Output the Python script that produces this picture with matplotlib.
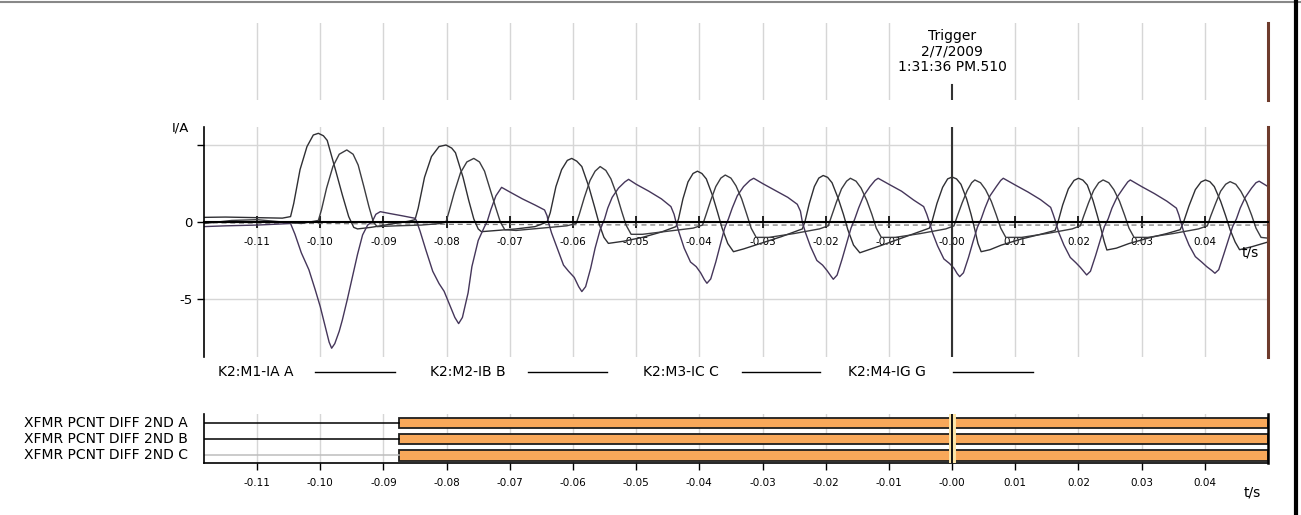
import matplotlib.pyplot as plt
import matplotlib.lines as mlines
import numpy as np

# time axis ticks (s)
tick_pos = [-0.11, -0.10, -0.09, -0.08, -0.07, -0.06, -0.05, -0.04, -0.03,
            -0.02, -0.01, 0.00, 0.01, 0.02, 0.03, 0.04]
tick_lab = ["-0.11", "-0.10", "-0.09", "-0.08", "-0.07", "-0.06", "-0.05", "-0.04",
            "-0.03", "-0.02", "-0.01", "-0.00", "0.01", "0.02", "0.03", "0.04"]
t_min, t_max = -0.1184, 0.050

# K2:M1-IA  (time [s], current [A])
ia_t = [-0.1184, -0.1150, -0.1100, -0.1060,
        -0.1047, -0.1042, -0.1032, -0.1021, -0.1011, -0.1003, -0.0995, -0.0989, -0.0976, -0.0965, -0.0955, -0.0947, -0.0941,
        -0.0920, -0.0890, -0.0860,
        -0.0850, -0.0845, -0.0835, -0.0824, -0.0812, -0.0801, -0.0792, -0.0786, -0.0774, -0.0765, -0.0757, -0.0750, -0.0745,
        -0.0720, -0.0690, -0.0660,
        -0.0641, -0.0636, -0.0627, -0.0618, -0.0609, -0.0602, -0.0594, -0.0586, -0.0575, -0.0566, -0.0558, -0.0551, -0.0544,
        -0.0520, -0.0490, -0.0460,
        -0.0437, -0.0433, -0.0426, -0.0418, -0.0410, -0.0403, -0.0396, -0.0389, -0.0379, -0.0371, -0.0364, -0.0355, -0.0346,
        -0.0330, -0.0300, -0.0270,
        -0.0237, -0.0233, -0.0226, -0.0218, -0.0211, -0.0204, -0.0197, -0.0190, -0.0180, -0.0172, -0.0165, -0.0156, -0.0146,
        -0.0114, -0.0080,
        -0.0036, -0.0032, -0.0024, -0.0015, -0.0007, 0.0000, 0.0007, 0.0014, 0.0023, 0.0030, 0.0036, 0.0041, 0.0046,
        0.0060, 0.0078, 0.0110, 0.0140,
        0.0163, 0.0167, 0.0175, 0.0184, 0.0193, 0.0200, 0.0207, 0.0214, 0.0223, 0.0230, 0.0236, 0.0241, 0.0245,
        0.0260, 0.0280, 0.0310, 0.0340,
        0.0361, 0.0366, 0.0375, 0.0385, 0.0394, 0.0401, 0.0408, 0.0415, 0.0425, 0.0433, 0.0440, 0.0448, 0.0455,
        0.0475, 0.0500]
ia_v = [0.30, 0.32, 0.28, 0.25,
        0.35, 1.20, 3.40, 4.90, 5.65, 5.76, 5.60, 5.30, 3.40, 1.75, 0.35, -0.35, -0.45,
        -0.35, -0.15, 0.05,
        0.15, 0.90, 2.90, 4.25, 4.90, 5.00, 4.80, 4.50, 2.90, 1.40, 0.20, -0.45, -0.63,
        -0.55, -0.45, -0.30,
        0.00, 0.60, 2.30, 3.40, 4.00, 4.13, 3.95, 3.60, 2.30, 1.00, -0.20, -1.00, -1.39,
        -1.25, -1.00, -0.65,
        -0.30, 0.20, 1.50, 2.60, 3.15, 3.30, 3.15, 2.80, 1.70, 0.60, -0.40, -1.40, -1.93,
        -1.75, -1.35, -0.95,
        -0.45, 0.00, 1.20, 2.30, 2.85, 3.02, 2.90, 2.55, 1.50, 0.50, -0.50, -1.50, -2.00,
        -1.55, -1.05,
        -0.40, 0.00, 1.20, 2.25, 2.80, 2.92, 2.80, 2.45, 1.50, 0.50, -0.50, -1.40, -1.93,
        -1.80, -1.50, -1.10, -0.80,
        -0.55, -0.10, 1.10, 2.15, 2.70, 2.84, 2.72, 2.40, 1.40, 0.40, -0.50, -1.30, -1.82,
        -1.70, -1.40, -1.05, -0.75,
        -0.50, -0.05, 1.05, 2.10, 2.60, 2.73, 2.62, 2.30, 1.35, 0.40, -0.50, -1.30, -1.80,
        -1.60, -1.30]

# K2:M2-IB
ib_t = [-0.1184, -0.1150, -0.1100, -0.1060,
        -0.1047, -0.1040, -0.1030, -0.1018, -0.1008, -0.1000, -0.0992, -0.0986, -0.0982, -0.0977, -0.0970, -0.0965, -0.0957, -0.0949, -0.0941, -0.0933, -0.0925, -0.0918,
        -0.0912, -0.0905, -0.0890, -0.0870, -0.0850,
        -0.0848, -0.0842, -0.0833, -0.0822, -0.0812, -0.0804, -0.0795, -0.0787, -0.0781, -0.0775, -0.0766, -0.0760, -0.0750, -0.0740, -0.0736,
        -0.0730, -0.0722, -0.0713, -0.0700, -0.0680, -0.0660, -0.0645, -0.0641,
        -0.0639, -0.0634, -0.0625, -0.0615, -0.0607, -0.0598, -0.0591, -0.0586, -0.0580, -0.0572, -0.0565, -0.0557, -0.0550,
        -0.0545, -0.0538, -0.0528, -0.0518, -0.0512, -0.0500, -0.0480, -0.0460, -0.0445, -0.0440,
        -0.0437, -0.0432, -0.0424, -0.0414, -0.0405, -0.0398, -0.0392, -0.0388, -0.0382, -0.0374, -0.0367, -0.0360, -0.0354,
        -0.0348, -0.0340, -0.0330, -0.0320, -0.0314, -0.0300, -0.0280, -0.0260, -0.0245, -0.0240,
        -0.0237, -0.0232, -0.0224, -0.0214, -0.0205, -0.0198, -0.0192, -0.0188, -0.0182, -0.0174, -0.0167, -0.0160, -0.0154,
        -0.0148, -0.0140, -0.0130, -0.0122, -0.0117, -0.0100, -0.0080, -0.0061, -0.0045, -0.0040,
        -0.0036, -0.0031, -0.0023, -0.0013, -0.0004, 0.0003, 0.0008, 0.0012, 0.0018, 0.0026, 0.0033, 0.0040, 0.0046,
        0.0052, 0.0060, 0.0070, 0.0077, 0.0081, 0.0100, 0.0120, 0.0140, 0.0156, 0.0160,
        0.0164, 0.0169, 0.0177, 0.0187, 0.0196, 0.0203, 0.0209, 0.0213, 0.0219, 0.0227, 0.0234, 0.0241, 0.0247,
        0.0253, 0.0261, 0.0271, 0.0278, 0.0282, 0.0300, 0.0320, 0.0340, 0.0355, 0.0359,
        0.0362, 0.0367, 0.0375, 0.0385, 0.0395, 0.0403, 0.0411, 0.0416, 0.0422, 0.0430, 0.0437, 0.0444, 0.0450,
        0.0456, 0.0464, 0.0474, 0.0481, 0.0486, 0.0500]
ib_v = [-0.30, -0.25, -0.20, -0.12,
        -0.10, -0.80, -2.00, -3.10, -4.40, -5.50, -6.80, -7.80, -8.20, -7.90, -7.10, -6.36, -5.00, -3.55, -2.10, -0.84, -0.20, 0.00,
        0.50, 0.67, 0.55, 0.40, 0.24,
        0.10, -0.60, -1.80, -3.20, -4.00, -4.50, -5.40, -6.20, -6.60, -6.20, -4.60, -2.90, -1.20, -0.30, 0.00,
        0.80, 1.70, 2.25, 1.95, 1.50, 1.10, 0.78, 0.40,
        0.00, -0.70, -1.70, -2.80, -3.20, -3.60, -4.20, -4.52, -4.20, -3.00, -1.70, -0.50, 0.20,
        0.90, 1.60, 2.20, 2.60, 2.77, 2.45, 2.00, 1.50, 1.00, 0.50,
        0.00, -0.70, -1.70, -2.60, -2.90, -3.30, -3.75, -3.98, -3.70, -2.60, -1.50, -0.40, 0.20,
        0.90, 1.70, 2.30, 2.70, 2.84, 2.50, 2.05, 1.60, 1.15, 0.70,
        0.00, -0.70, -1.60, -2.50, -2.80, -3.15, -3.50, -3.72, -3.45, -2.40, -1.40, -0.40, 0.20,
        0.90, 1.70, 2.30, 2.70, 2.84, 2.45, 2.00, 1.43, 1.00, 0.50,
        0.00, -0.70, -1.55, -2.40, -2.70, -3.00, -3.35, -3.55, -3.30, -2.30, -1.30, -0.35, 0.20,
        0.90, 1.70, 2.30, 2.70, 2.84, 2.40, 1.95, 1.45, 0.95, 0.50,
        0.00, -0.70, -1.50, -2.30, -2.65, -2.95, -3.25, -3.44, -3.20, -2.20, -1.25, -0.30, 0.20,
        0.90, 1.60, 2.20, 2.60, 2.73, 2.30, 1.85, 1.35, 0.90, 0.45,
        0.00, -0.70, -1.50, -2.25, -2.60, -2.90, -3.15, -3.33, -3.10, -2.10, -1.20, -0.30, 0.20,
        0.90, 1.60, 2.20, 2.55, 2.65, 2.30]

# K2:M3-IC
ic_t = [-0.1184, -0.1140, -0.1100, -0.1060, -0.1030,
        -0.1003, -0.0998, -0.0990, -0.0980, -0.0970, -0.0958, -0.0948, -0.0940, -0.0931, -0.0923, -0.0916, -0.0910,
        -0.0880, -0.0840, -0.0810,
        -0.0801, -0.0796, -0.0788, -0.0778, -0.0768, -0.0757, -0.0748, -0.0740, -0.0731, -0.0722, -0.0715, -0.0708,
        -0.0690, -0.0650, -0.0610,
        -0.0595, -0.0590, -0.0582, -0.0573, -0.0565, -0.0557, -0.0548, -0.0540, -0.0531, -0.0523, -0.0516, -0.0508,
        -0.0490, -0.0450, -0.0410,
        -0.0395, -0.0390, -0.0382, -0.0374, -0.0366, -0.0359, -0.0350, -0.0342, -0.0333, -0.0325, -0.0318, -0.0310,
        -0.0290, -0.0250, -0.0210,
        -0.0196, -0.0191, -0.0183, -0.0175, -0.0167, -0.0161, -0.0152, -0.0144, -0.0135, -0.0127, -0.0120, -0.0112,
        -0.0090, -0.0050, -0.0010,
        0.0003, 0.0008, 0.0016, 0.0024, 0.0031, 0.0036, 0.0045, 0.0053, 0.0062, 0.0070, 0.0077, 0.0085,
        0.0110, 0.0150, 0.0190,
        0.0203, 0.0208, 0.0216, 0.0224, 0.0232, 0.0239, 0.0248, 0.0256, 0.0265, 0.0273, 0.0280, 0.0288,
        0.0310, 0.0350, 0.0390,
        0.0404, 0.0409, 0.0417, 0.0425, 0.0433, 0.0440, 0.0449, 0.0457, 0.0466, 0.0474, 0.0481, 0.0489, 0.0500]
ic_v = [-0.10, 0.10, 0.15, 0.00, -0.10,
        0.10, 0.80, 2.20, 3.60, 4.40, 4.68, 4.40, 3.70, 2.30, 1.00, 0.00, -0.30,
        -0.25, -0.20, -0.10,
        0.00, 0.70, 1.90, 3.20, 3.90, 4.13, 3.90, 3.30, 2.10, 0.90, 0.00, -0.50,
        -0.55, -0.40, -0.25,
        -0.10, 0.50, 1.60, 2.70, 3.30, 3.60, 3.35, 2.80, 1.80, 0.70, -0.20, -0.80,
        -0.80, -0.60, -0.40,
        -0.20, 0.40, 1.40, 2.30, 2.85, 3.05, 2.85, 2.35, 1.50, 0.50, -0.40, -1.00,
        -1.00, -0.75, -0.45,
        -0.25, 0.35, 1.30, 2.15, 2.65, 2.84, 2.65, 2.20, 1.40, 0.50, -0.40, -1.00,
        -1.00, -0.75, -0.45,
        -0.25, 0.35, 1.25, 2.05, 2.55, 2.73, 2.55, 2.10, 1.35, 0.45, -0.40, -1.00,
        -1.00, -0.75, -0.45,
        -0.25, 0.35, 1.25, 2.05, 2.55, 2.73, 2.55, 2.10, 1.35, 0.45, -0.40, -1.00,
        -1.00, -0.75, -0.45,
        -0.25, 0.35, 1.20, 2.00, 2.45, 2.62, 2.45, 2.00, 1.30, 0.45, -0.40, -1.00, -1.05]

# K2:M4-IG (residual, close to zero)
ig_t = [-0.1184, -0.1000, -0.0800, -0.0600, -0.0400, -0.0200, 0.0000, 0.0200, 0.0400, 0.0500]
ig_v = [-0.05, -0.10, -0.15, -0.18, -0.20, -0.20, -0.20, -0.20, -0.20, -0.20]

legend_names = ["K2:M1-IA A", "K2:M2-IB B", "K2:M3-IC C", "K2:M4-IG G"]

# digital channels: pickup time of each element (s)
dig_names = ["XFMR PCNT DIFF 2ND A", "XFMR PCNT DIFF 2ND B", "XFMR PCNT DIFF 2ND C"]
dig_on = [-0.0875, -0.0875, -0.0875]

trigger_text = "Trigger\n2/7/2009\n1:31:36 PM.510"

W, H = 1301, 515
plt.rcParams["font.family"] = ["DejaVu Sans"]
fig = plt.figure(figsize=(W / 100, H / 100), dpi=100)


def box(x0, y0, x1, y1):
    # pixel box (top-left origin) -> figure fraction rect
    return [x0 / W, 1 - y1 / H, (x1 - x0) / W, (y1 - y0) / H]


grid_c = "#d6d6d6"
brown = "#6e3b2c"
trace_c = "#2f2f33"

# ---- top strip with trigger stamp
ax_top = fig.add_axes(box(204, 23, 1268, 100))
ax_top.set_xlim(t_min, t_max)
ax_top.set_ylim(0, 1)
ax_top.axis("off")
for t in tick_pos:
    if t != 0.0:
        ax_top.axvline(t, color=grid_c, lw=1)
ax_top.axvline(0.0, ymin=0, ymax=0.2, color="#333333", lw=1.5)
ax_top.axvline(t_max, color=brown, lw=2.2, clip_on=False)
ax_top.text(0.0, 0.92, trigger_text, ha="center", va="top", fontsize=10, linespacing=1.15)

# ---- analog currents
ax = fig.add_axes(box(204, 127, 1268, 357))
ax.set_xlim(t_min, t_max)
ax.set_ylim(-8.77, 6.17)
for s in ["top", "right"]:
    ax.spines[s].set_visible(False)
ax.spines["bottom"].set_position(("data", 0))
ax.spines["bottom"].set_linewidth(1.5)
ax.spines["left"].set_linewidth(1.2)
ax.set_xticks(tick_pos)
ax.set_xticklabels(tick_lab, fontsize=7.5)
ax.tick_params(axis="x", direction="inout", length=9, width=1.2, pad=6)
ax.set_yticks([5, 0, -5])
ax.set_yticklabels(["", "0", "-5"], fontsize=9.5)
ax.tick_params(axis="y", direction="out", length=5, width=1)
ax.grid(True, color=grid_c, lw=1)
ax.set_axisbelow(True)

ax.plot(ig_t, ig_v, color="#7a7a7a", lw=0.9, ls=(0, (4, 3)))
ax.plot(ia_t, ia_v, color=trace_c, lw=1.0)
ax.plot(ib_t, ib_v, color="#45365a", lw=1.0)
ax.plot(ic_t, ic_v, color="#3c3c40", lw=1.0)

ax.axvline(0.0, color="#333333", lw=1.5)
ax.axvline(t_max, color=brown, lw=2.2, clip_on=False)

fig.text(180 / W, 1 - 128 / H, "I/A", ha="center", va="center", fontsize=9.5)
fig.text(1250 / W, 1 - 252 / H, "t/s", ha="center", va="center", fontsize=10)

# ---- legend row
leg_x = [218, 430, 643, 848]
leg_line = [(315, 395), (528, 607), (742, 820), (953, 1033)]
for name, x0, (l0, l1) in zip(legend_names, leg_x, leg_line):
    fig.text(x0 / W, 1 - 372 / H, name, ha="left", va="center", fontsize=10)
    fig.add_artist(mlines.Line2D([l0 / W, l1 / W], [1 - 372 / H, 1 - 372 / H], color="black", lw=1))

# ---- digital channels
axd = fig.add_axes(box(204, 414, 1268, 463))
axd.set_xlim(t_min, t_max)
axd.set_ylim(0, 3)
axd.spines["top"].set_visible(False)
axd.spines["right"].set_linewidth(1.8)
axd.spines["left"].set_linewidth(1.2)
axd.spines["bottom"].set_linewidth(1.2)
axd.set_xticks(tick_pos)
axd.set_xticklabels(tick_lab, fontsize=7.5)
axd.tick_params(axis="x", direction="out", length=5, width=1, pad=6)
axd.set_yticks([])
for t in tick_pos:
    axd.axvline(t, color=grid_c, lw=1, zorder=0)

rows = [2.45, 1.47, 0.47]
row_line = ["black", "black", "#bdbdbd"]
for name, on, yc, lc in zip(dig_names, dig_on, rows, row_line):
    axd.barh(yc, t_max - on, left=on, height=0.64, color="#f8a85a",
             edgecolor="#1e1e1e", lw=1.3, zorder=2)
    axd.plot([t_min, on], [yc, yc], color=lc, lw=1.1, zorder=2)
    fig.text(188 / W, 1 - (463 - yc / 3 * 49) / H, name, ha="right", va="center", fontsize=10)
axd.axvline(0.0, color="#fde6a8", lw=5, zorder=3)
axd.axvline(0.0, color="#111111", lw=1.4, zorder=4)
fig.text(1252 / W, 1 - 492 / H, "t/s", ha="center", va="center", fontsize=10)

# image frame
fig.add_artist(mlines.Line2D([0, 1], [1 - 1.5 / H, 1 - 1.5 / H], color="#888888", lw=1.5))
fig.add_artist(mlines.Line2D([1296 / W, 1296 / W], [0, 1], color="black", lw=3))

fig.savefig("out.png", dpi=100)
